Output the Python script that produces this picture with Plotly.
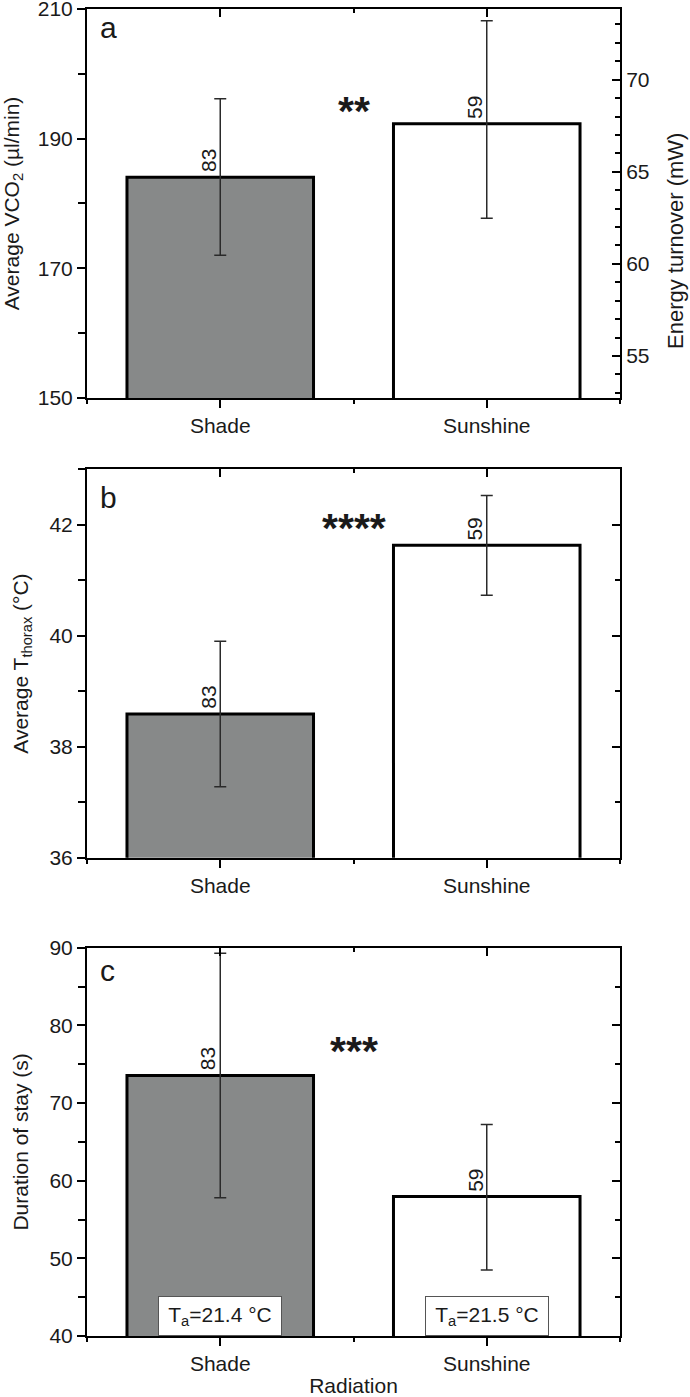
import plotly.graph_objects as go

# ---------------- data ----------------
CATS = ["Shade", "Sunshine"]
N_COUNTS = ["83", "59"]

VCO2_MEAN = [184.05, 192.29]
VCO2_ERR_PLUS = [12.1, 15.9]
VCO2_ERR_MINUS = [12.05, 14.57]

TTHORAX_MEAN = [38.59, 41.63]
TTHORAX_ERR = [1.31, 0.9]

STAY_MEAN = [73.55, 57.95]
STAY_ERR_PLUS = [15.73, 9.3]
STAY_ERR_MINUS = [15.74, 9.45]

TA = [21.4, 21.5]
SIG_STARS = ["**", "****", "***"]
SIG_Y = [194.8, 42.0, 77.1]
PANEL_LETTERS = ["a", "b", "c"]

VCO2_TICKS = [150, 170, 190, 210]
ENERGY_TICKS = [55, 60, 65, 70]
TTHORAX_TICKS = [36, 38, 40, 42]
STAY_TICKS = [40, 50, 60, 70, 80, 90]

# ---------------- style ----------------
FONT = "Liberation Sans, Arial, sans-serif"
TXT = "#1a1a1a"
BAR_COLORS = ["#878989", "#ffffff"]
X_POS = list(range(len(CATS)))
XR = [-0.5, len(CATS) - 0.5]
XMINOR = [-0.5, 0.5, 1.5]

fig = go.Figure()

def add_bars(xa, ya, mean, plus, minus):
    fig.add_trace(go.Bar(
        x=X_POS, y=mean, width=0.7, xaxis=xa, yaxis=ya,
        marker=dict(color=BAR_COLORS, line=dict(color="black", width=3)),
        error_y=dict(type="data", array=plus, arrayminus=minus,
                     color="#2a2a2a", thickness=1.5, width=6),
        showlegend=False, hoverinfo="skip"))

add_bars("x", "y", VCO2_MEAN, VCO2_ERR_PLUS, VCO2_ERR_MINUS)
add_bars("x2", "y3", TTHORAX_MEAN, TTHORAX_ERR, TTHORAX_ERR)
add_bars("x3", "y5", STAY_MEAN, STAY_ERR_PLUS, STAY_ERR_MINUS)

# empty traces so that the overlaid frame axes (top / right) are drawn
for xa, ya in [("x", "y2"), ("x4", "y"), ("x2", "y4"), ("x5", "y3"), ("x3", "y6"), ("x6", "y5")]:
    fig.add_trace(go.Scatter(x=[], y=[], xaxis=xa, yaxis=ya, mode="markers",
                             showlegend=False, hoverinfo="skip"))

tickfont = dict(family=FONT, size=21, color=TXT)
titlefont = dict(family=FONT, size=21, color=TXT)

def xbase(anchor, title=None):
    d = dict(domain=[0, 1], anchor=anchor, range=XR, tickmode="array",
             tickvals=X_POS, ticktext=CATS, ticks="outside", ticklen=8, tickwidth=2,
             tickcolor="black", showline=True, linewidth=2, linecolor="black",
             showgrid=False, zeroline=False, tickfont=tickfont, fixedrange=True,
             automargin=False, ticklabeloverflow="allow",
             minor=dict(tickvals=XMINOR, ticks="outside", ticklen=4, tickwidth=2,
                        tickcolor="black", showgrid=False))
    if title:
        d["title"] = dict(text=title, font=titlefont, standoff=8)
    return d

def xtop(over, anchor):
    return dict(overlaying=over, anchor=anchor, side="top", range=XR, tickmode="array",
                tickvals=X_POS, ticks="inside", ticklen=8, tickwidth=2, tickcolor="black",
                showticklabels=False, showline=True, linewidth=2, linecolor="black",
                showgrid=False, zeroline=False, fixedrange=True, automargin=False,
                minor=dict(tickvals=XMINOR[1:-1], ticks="inside", ticklen=4, tickwidth=2,
                           tickcolor="black", showgrid=False))

def yleft(domain, anchor, rng, tickvals, minor_dtick, title):
    return dict(domain=domain, anchor=anchor, range=rng, tickmode="array",
                tickvals=tickvals, ticks="outside", ticklen=8, tickwidth=2,
                tickcolor="black", showline=True, linewidth=2, linecolor="black",
                showgrid=False, zeroline=False, tickfont=tickfont, fixedrange=True,
                automargin=False, ticklabeloverflow="allow",
                title=dict(text=title, font=titlefont),
                minor=dict(dtick=minor_dtick, tick0=rng[0], ticks="outside", ticklen=7,
                           tickwidth=2, tickcolor="black", showgrid=False))

def yright(over, anchor, rng, tickvals, minor_dtick, labels=False):
    return dict(overlaying=over, anchor=anchor, side="right", range=rng, tickmode="array",
                tickvals=tickvals, ticks="inside", ticklen=8, tickwidth=2, tickcolor="black",
                showticklabels=labels, showline=True, linewidth=2, linecolor="black",
                showgrid=False, zeroline=False, tickfont=tickfont, fixedrange=True,
                automargin=False, ticklabeloverflow="allow",
                minor=dict(dtick=minor_dtick, tick0=0, ticks="inside", ticklen=5,
                           tickwidth=2, tickcolor="black", showgrid=False))

DOM_A = [0.7069, 1.0]
DOM_B = [0.3604, 0.6531]
DOM_C = [0.0, 0.2926]
R_A = [150, 210]
R_E = [52.72, 73.84]
R_B = [36, 43]
R_C = [40, 90]

fig.update_layout(
    width=690, height=1397,
    margin=dict(l=87, r=70, t=9, b=61, autoexpand=False),
    paper_bgcolor="white", plot_bgcolor="white",
    font=dict(family=FONT, color=TXT),
    showlegend=False,
    xaxis=xbase("y"),
    xaxis2=xbase("y3"),
    xaxis3=xbase("y5", "Radiation"),
    xaxis4=xtop("x", "y"),
    xaxis5=xtop("x2", "y3"),
    xaxis6=xtop("x3", "y5"),
    yaxis=yleft(DOM_A, "x", R_A, VCO2_TICKS, 10, "Average VCO<sub>2</sub> (µl/min)"),
    yaxis2=yright("y", "x", R_E, ENERGY_TICKS, 1, labels=True),
    yaxis3=yleft(DOM_B, "x2", R_B, TTHORAX_TICKS, 1, "Average T<sub>thorax</sub> (°C)"),
    yaxis4=yright("y3", "x2", R_B, TTHORAX_TICKS, 1),
    yaxis5=yleft(DOM_C, "x3", R_C, STAY_TICKS, 5, "Duration of stay (s)"),
    yaxis6=yright("y5", "x3", R_C, STAY_TICKS, 5),
)

panels = [("x", "y", VCO2_MEAN), ("x2", "y3", TTHORAX_MEAN), ("x3", "y5", STAY_MEAN)]
letter_shift = [0, -10, -4]
annotations = []
for k, (xa, ya, means) in enumerate(panels):
    # panel letter
    annotations.append(dict(text=PANEL_LETTERS[k], xref=f"{xa} domain", yref=f"{ya} domain",
                            x=0.02, y=1, xanchor="left", yanchor="top", yshift=letter_shift[k],
                            showarrow=False, font=dict(family=FONT, size=30, color=TXT)))
    # significance stars
    annotations.append(dict(text=SIG_STARS[k], xref=xa, yref=ya, x=0.5, y=SIG_Y[k],
                            xanchor="center", yanchor="middle", showarrow=False, yshift=-3,
                            font=dict(family=FONT, size=41, color=TXT, weight="bold")))
    # counts
    for i, m in enumerate(means):
        annotations.append(dict(text=N_COUNTS[i], xref=xa, yref=ya, x=X_POS[i], y=m,
                                xanchor="center", yanchor="bottom", textangle=-90,
                                xshift=-12, yshift=3, showarrow=False,
                                font=dict(family=FONT, size=21, color=TXT)))

# right-hand title of panel a (energy turnover)
annotations.append(dict(text="Energy turnover (mW)", xref="paper", yref="paper",
                        x=1.0, xshift=55, y=(1397 - 61 - 241) / (1397 - 70),
                        xanchor="center", yanchor="middle", textangle=-90, showarrow=False,
                        font=dict(family=FONT, size=22, color=TXT)))

# ambient temperature boxes in panel c
for i, t in enumerate(TA):
    annotations.append(dict(text=f"T<sub>a</sub>={t} °C", xref="x3", yref="y5",
                            x=X_POS[i], y=R_C[0], xanchor="center", yanchor="bottom",
                            showarrow=False, bgcolor="white", bordercolor="#555555",
                            borderwidth=1, borderpad=2, width=118, height=34,
                            font=dict(family=FONT, size=21, color=TXT)))

fig.update_layout(annotations=annotations)
fig.write_html("out.html", config={"displayModeBar": False},
               post_script="document.body.style.margin='0';")
